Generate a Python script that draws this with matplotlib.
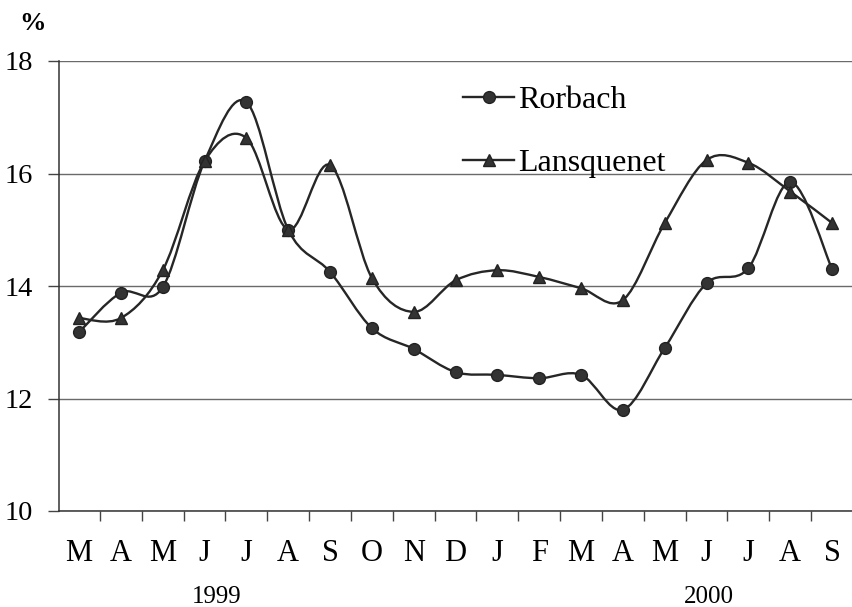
import numpy as np
import matplotlib
matplotlib.use("Agg")
import matplotlib.pyplot as plt
from matplotlib.path import Path
from matplotlib.patches import PathPatch
from matplotlib.lines import Line2D

plt.rcParams["font.family"] = ["Liberation Serif", "DejaVu Serif"]

# Monthly rates, March 1999 to September 2000
months = ["M", "A", "M", "J", "J", "A", "S", "O", "N", "D",
          "J", "F", "M", "A", "M", "J", "J", "A", "S"]
rorbach = [13.18, 13.88, 13.98, 16.22, 17.27, 15.0, 14.25, 13.25, 12.88, 12.47,
           12.42, 12.36, 12.42, 11.8, 12.9, 14.05, 14.32, 15.85, 14.3]
lansquenet = [13.43, 13.43, 14.28, 16.22, 16.63, 15.0, 16.15, 14.14, 13.54, 14.1,
              14.28, 14.16, 13.96, 13.75, 15.12, 16.24, 16.19, 15.68, 15.12]
years = ["1999", "2000"]
year_pos = [3.3, 15.05]

LINE = "#262626"
GRID = "#6a6a6a"


def smooth_path(xs, ys):
    # cubic Bezier through every point, Excel-style smoothing
    pts = np.column_stack([xs, ys]).astype(float)
    n = len(pts)
    verts = [pts[0]]
    codes = [Path.MOVETO]
    for i in range(n - 1):
        p0 = pts[i - 1] if i > 0 else pts[i]
        p1 = pts[i]
        p2 = pts[i + 1]
        p3 = pts[i + 2] if i + 2 < n else pts[i + 1]
        c1 = p1 + (p2 - p0) / 6.0
        c2 = p2 - (p3 - p1) / 6.0
        verts += [c1, c2, p2]
        codes += [Path.CURVE4] * 3
    return Path(verts, codes)


fig = plt.figure(figsize=(8.53, 6.07), dpi=100)
ax = fig.add_axes([59 / 853, 96 / 607, 794 / 853, 450 / 607])

x = np.arange(len(months))
for vals, mk, ms in [(rorbach, "o", 8.5), (lansquenet, "^", 9)]:
    ax.add_patch(PathPatch(smooth_path(x, vals), facecolor="none",
                           edgecolor=LINE, lw=1.7, zorder=3))
    ax.plot(x, vals, ls="none", marker=mk, ms=ms, color="#333333",
            mec="#222222", zorder=4, clip_on=False)

ax.set_xlim(-0.48, 18.42)
ax.set_ylim(10, 18)
ax.set_yticks([10, 12, 14, 16, 18])
ax.yaxis.grid(True, color=GRID, lw=1.0)
ax.set_axisbelow(True)

ax.set_xticks(x)
ax.set_xticklabels(months, fontsize=22)
ax.set_xticks(np.arange(-0.5, 18.6, 1.0)[1:], minor=True)
ax.tick_params(axis="x", which="major", length=0, pad=20)
ax.tick_params(axis="x", which="minor", length=7, width=1, color="#444444",
               direction="out")
ax.tick_params(axis="y", length=8, width=1, color="#444444", pad=11,
               labelsize=20.5)

for s in ["top", "right"]:
    ax.spines[s].set_visible(False)
for s in ["left", "bottom"]:
    ax.spines[s].set_color("#333333")
    ax.spines[s].set_linewidth(1.1)

for yr, xp in zip(years, year_pos):
    ax.text(xp, -0.191, yr, transform=ax.get_xaxis_transform(),
            ha="center", va="center", fontsize=18)

fig.text(33 / 853, 1 - 23 / 607, "%", ha="center", va="center",
         fontsize=19, fontweight="bold")

handles = [
    Line2D([], [], color=LINE, lw=1.7, marker="o", ms=8.5, mfc="#333333",
           mec="#222222"),
    Line2D([], [], color=LINE, lw=1.7, marker="^", ms=9, mfc="#333333",
           mec="#222222"),
]
ax.legend(handles, ["Rorbach", "Lansquenet"], loc="upper left",
          bbox_to_anchor=(463 / 853, 1 - 86 / 607),
          bbox_transform=fig.transFigure, frameon=False, fontsize=23,
          handlelength=1.6, handletextpad=0.12, labelspacing=1.05,
          borderpad=0, borderaxespad=0)

fig.savefig("out.png", dpi=100)
